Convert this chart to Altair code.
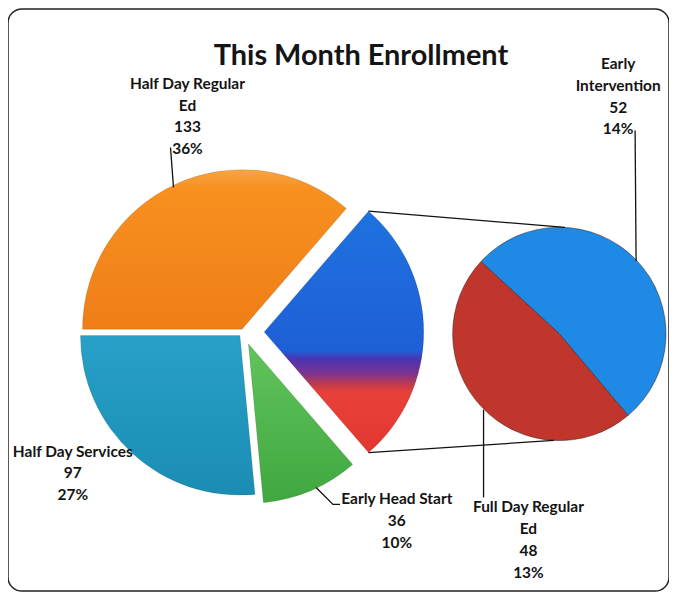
import math
import altair as alt
import pandas as pd

# ---------------- data ----------------
main_categories = ["Half Day Regular Ed", "Half Day Services", "Early Head Start"]
main_values = [133, 97, 36]
second_categories = ["Early Intervention", "Full Day Regular Ed"]
second_values = [52, 48]
title_text = "This Month Enrollment"

# ---------------- layout (chart pixel space) ----------------
W, H = 663, 584
MAIN_CX, MAIN_CY, MAIN_R = 236, 324, 160
SEC_CX, SEC_CY, SEC_R = 553, 326, 107
MAIN_START = math.radians(270)
SEC_START = math.radians(312.7)
MAIN_ORDER = ["Half Day Regular Ed", "Other", "Early Head Start", "Half Day Services"]
EXPLODE = {"Half Day Regular Ed": 3, "Other": 21, "Early Head Start": 13, "Half Day Services": 5}
WRAP = {"Half Day Regular Ed": "Half Day Regular\nEd", "Early Intervention": "Early\nIntervention",
        "Full Day Regular Ed": "Full Day Regular\nEd"}
# (center x, first-line y)
LABEL_POS = {"Half Day Regular Ed": (180, 75), "Early Intervention": (612, 55),
             "Half Day Services": (65, 444), "Early Head Start": (390, 492),
             "Full Day Regular Ed": (522, 500)}
LEADERS = {"Half Day Regular Ed": [(163, 139), (166, 179)],
           "Early Intervention": [(629, 122), (630, 253)],
           "Early Head Start": [(309, 480), (326, 497), (333, 497)],
           "Full Day Regular Ed": [(477, 402), (477, 490)]}

total = sum(main_values) + sum(second_values)
other_value = sum(second_values)

vals = dict(zip(main_categories, main_values))
vals["Other"] = other_value
main_df = pd.DataFrame({
    "category": MAIN_ORDER,
    "value": [vals[c] for c in MAIN_ORDER],
    "order": list(range(len(MAIN_ORDER))),
    "explode": [EXPLODE[c] for c in MAIN_ORDER],
})
sec_df = pd.DataFrame({"category": second_categories, "value": second_values,
                       "order": list(range(len(second_categories)))})


def pie_base(df, start, cx, cy):
    return (alt.Chart(df)
            .transform_window(cum="sum(value)", sort=[alt.SortField("order")])
            .transform_joinaggregate(total="sum(value)")
            .transform_calculate(
                t0=f"{start} + 2*PI*(datum.cum - datum.value)/datum.total",
                t1=f"{start} + 2*PI*datum.cum/datum.total")
            .transform_calculate(mid="(datum.t0 + datum.t1)/2")
            .transform_calculate(
                px=f"{cx} + (datum.explode || 0)*sin(datum.mid)",
                py=f"{cy} - (datum.explode || 0)*cos(datum.mid)"))


def grad(stops):
    return alt.Gradient(gradient="linear",
                        stops=[alt.GradientStop(offset=o, color=c) for o, c in stops],
                        x1=0, x2=0, y1=0, y2=1)


enc = dict(x=alt.X("px:Q", scale=None, axis=None),
           y=alt.Y("py:Q", scale=None, axis=None),
           theta=alt.Theta("t0:Q", scale=None),
           theta2=alt.Theta2("t1:Q"))

main_base = pie_base(main_df, MAIN_START, MAIN_CX, MAIN_CY)
sec_base = pie_base(sec_df, SEC_START, SEC_CX, SEC_CY)

fills = {
    "Half Day Regular Ed": grad([(0, "#F9A443"), (0.12, "#F7901F"), (1, "#EF7E17")]),
    "Other": grad([(0, "#1F72E0"), (0.58, "#1E5FD6"), (0.61, "#4A34B4"), (0.67, "#7A3393"),
                   (0.72, "#C23B48"), (0.75, "#E8413A"), (1, "#E43630")]),
    "Early Head Start": grad([(0, "#62C35C"), (1, "#3FA83E")]),
    "Half Day Services": grad([(0, "#28A0C8"), (1, "#1A8DB3")]),
}
sec_fills = {"Early Intervention": "#1F8AE6", "Full Day Regular Ed": "#C0352C"}

layers = []
for c in MAIN_ORDER:
    layers.append(main_base.transform_filter(alt.datum.category == c)
                  .mark_arc(radius=MAIN_R, fill=fills[c], stroke="#000", strokeOpacity=0.15,
                            strokeWidth=0.8)
                  .encode(**enc))
for c in second_categories:
    layers.append(sec_base.transform_filter(alt.datum.category == c)
                  .mark_arc(radius=SEC_R, fill=sec_fills[c], stroke="#3a1a14",
                            strokeOpacity=0.5, strokeWidth=1)
                  .encode(**enc))

# connector lines from the exploded slice corners to the secondary pie
mid_other = MAIN_START + 2 * math.pi * (vals[MAIN_ORDER[0]] + other_value / 2) / total
ocx = MAIN_CX + EXPLODE["Other"] * math.sin(mid_other)
ocy = MAIN_CY - EXPLODE["Other"] * math.cos(mid_other)
a_top = MAIN_START + 2 * math.pi * vals[MAIN_ORDER[0]] / total
a_bot = MAIN_START + 2 * math.pi * (vals[MAIN_ORDER[0]] + other_value) / total
lines = []
p1 = (ocx + MAIN_R * math.sin(a_top), ocy - MAIN_R * math.cos(a_top))
p2 = (SEC_CX + SEC_R * math.sin(math.radians(3)), SEC_CY - SEC_R * math.cos(math.radians(3)))
p3 = (ocx + MAIN_R * math.sin(a_bot), ocy - MAIN_R * math.cos(a_bot))
p4 = (SEC_CX + SEC_R * math.sin(math.radians(183)), SEC_CY - SEC_R * math.cos(math.radians(183)))
for gid, pts in [("c_top", [p1, p2]), ("c_bot", [p3, p4])] + list(LEADERS.items()):
    for i, (x, y) in enumerate(pts):
        lines.append({"g": gid, "seq": i, "x": x, "y": y})
lines_df = pd.DataFrame(lines)
layers.append(alt.Chart(lines_df).mark_line(color="#111", strokeWidth=1.3).encode(
    x=alt.X("x:Q", scale=None, axis=None), y=alt.Y("y:Q", scale=None, axis=None),
    detail="g:N", order="seq:Q"))

# labels
all_vals = dict(zip(main_categories + second_categories, main_values + second_values))
lab = []
for c, v in all_vals.items():
    pct = round(v / total * 100)
    x, y = LABEL_POS[c]
    lab.append({"x": x, "y": y, "text": f"{WRAP.get(c, c)}\n{v}\n{pct}%"})
lab_df = pd.DataFrame(lab)
layers.append(alt.Chart(lab_df).mark_text(font="Lato", fontWeight="bold", fontSize=15.5,
                                          lineBreak="\n", lineHeight=22, align="center",
                                          baseline="middle", color="#141414").encode(
    x=alt.X("x:Q", scale=None, axis=None), y=alt.Y("y:Q", scale=None, axis=None), text="text:N"))

title_df = pd.DataFrame({"x": [354], "y": [47], "text": [title_text]})
layers.append(alt.Chart(title_df).mark_text(font="Lato", fontWeight="bold", fontSize=29,
                                            align="center", baseline="middle", color="#141414").encode(
    x=alt.X("x:Q", scale=None, axis=None), y=alt.Y("y:Q", scale=None, axis=None), text="text:N"))

chart = alt.layer(*layers).properties(
    width=W, height=H, autosize=alt.AutoSizeParams(type="none"), padding=0,
    background="white"
).configure_view(stroke="#222", strokeWidth=1.5, cornerRadius=14)

chart.save("out.html", embed_options={"renderer": "svg", "actions": False})
